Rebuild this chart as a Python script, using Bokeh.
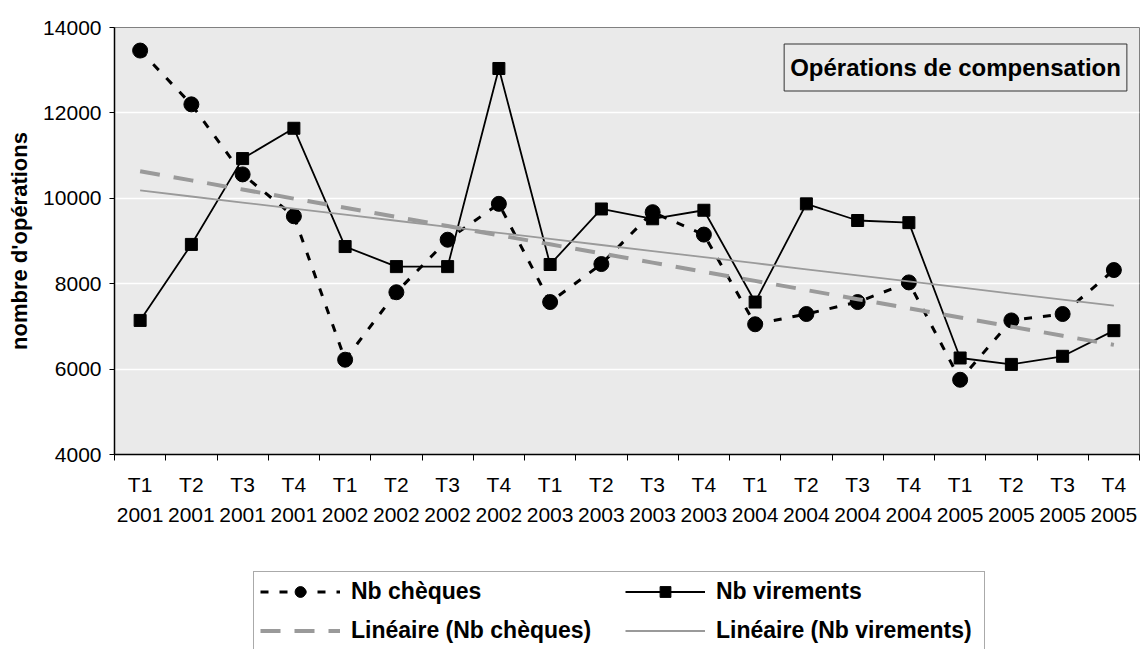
import numpy as np
from bokeh.plotting import figure
from bokeh.layouts import column
from bokeh.models import Range1d, FixedTicker, Legend, LegendItem, Label
from bokeh.embed import file_html
from bokeh.resources import INLINE

quarters = ["T1", "T2", "T3", "T4"] * 5
years = ["2001"] * 4 + ["2002"] * 4 + ["2003"] * 4 + ["2004"] * 4 + ["2005"] * 4
cheques = [13460, 12200, 10560, 9580, 6220, 7800, 9030, 9870, 7570, 8460,
           9675, 9150, 7050, 7290, 7570, 8030, 5750, 7140, 7290, 8320]
virements = [7140, 8920, 10930, 11640, 8870, 8400, 8400, 13040, 8450, 9750,
             9520, 9720, 7570, 9870, 9480, 9430, 6260, 6110, 6300, 6900]
y_ticks = [4000, 6000, 8000, 10000, 12000, 14000]

FONT = "Liberation Sans"
x = list(range(len(quarters)))
tick_labels = {i: f"{q}\n{y}" for i, (q, y) in enumerate(zip(quarters, years))}

trend_c = np.polyval(np.polyfit(x, cheques, 1), x)
trend_v = np.polyval(np.polyfit(x, virements, 1), x)

# styles shared by the chart and the legend
S_CHQ = dict(line_color="black", line_width=3, line_dash="8 11")
M_CHQ = dict(marker="circle", size=15, fill_color="black", line_color="black")
S_VIR = dict(line_color="black", line_width=1.8)
M_VIR = dict(marker="square", size=12, fill_color="black", line_color="black")
S_TC = dict(line_color="#9a9a9a", line_width=4, line_dash="20 14")
S_TV = dict(line_color="#9a9a9a", line_width=1.8)

p = figure(width=1140, height=560, output_backend="svg", toolbar_location=None,
           x_range=Range1d(-0.5, len(x) - 0.5), y_range=Range1d(4000, 14000),
           min_border_left=114, min_border_right=1, min_border_top=27,
           min_border_bottom=106, background_fill_color="#eaeaea",
           border_fill_color="white", outline_line_color="#808080")

# axes
p.xaxis.ticker = FixedTicker(ticks=x, minor_ticks=[i - 0.5 for i in range(len(x) + 1)])
p.xaxis.major_label_overrides = tick_labels
p.xaxis.major_tick_out = 0
p.xaxis.major_tick_in = 0
p.xaxis.minor_tick_out = 6
p.xaxis.minor_tick_in = 0
p.xaxis.minor_tick_line_color = "black"
p.xaxis.major_label_standoff = 12
p.xaxis.major_label_text_line_height = 1.33
p.yaxis.ticker = FixedTicker(ticks=y_ticks)
p.yaxis.major_tick_out = 5
p.yaxis.major_tick_in = 0
p.yaxis.minor_tick_line_color = None
p.yaxis.major_label_standoff = 8
p.yaxis.axis_label = "nombre d'opérations"
p.yaxis.axis_label_standoff = 8
p.yaxis.axis_label_text_font = FONT
p.yaxis.axis_label_text_font_style = "bold"
p.yaxis.axis_label_text_font_size = "22px"
p.yaxis.axis_label_text_color = "black"
for ax in (p.xaxis, p.yaxis):
    ax.axis_line_color = "black"
    ax.axis_line_width = 1.5
    ax.major_tick_line_color = "black"
    ax.major_label_text_font = FONT
    ax.major_label_text_font_size = "21px"
    ax.major_label_text_color = "black"

p.xgrid.grid_line_color = None
p.ygrid.grid_line_color = "white"
p.ygrid.grid_line_width = 1.5

# series
p.line(x, cheques, **S_CHQ)
p.scatter(x, cheques, **M_CHQ)
p.line(x, virements, **S_VIR)
p.scatter(x, virements, **M_VIR)
p.line(x, trend_c, **S_TC)
p.line(x, trend_v, **S_TV)

title = Label(x=15.91, y=13063, text="Opérations de compensation",
              text_align="center", text_baseline="middle", text_font=FONT,
              text_font_style="bold", text_font_size="24px", text_color="black",
              border_line_color="#333333", border_line_width=1,
              background_fill_color="#eaeaea",
              padding=dict(left=6, right=6, top=10, bottom=10))
p.add_layout(title)

# legend strip below the chart: same series, drawn outside its view range
# (clipped away), so only the legend swatches show
pl = figure(width=1140, height=89, output_backend="svg", toolbar_location=None,
            x_axis_type=None, y_axis_type=None, min_border=0,
            x_range=Range1d(-0.5, len(x) - 0.5), y_range=Range1d(0, 1),
            outline_line_color=None, background_fill_color="white",
            border_fill_color="white")
pl.xgrid.visible = False
pl.ygrid.visible = False
g1 = pl.line(x, cheques, **S_CHQ)
g1m = pl.scatter(x, cheques, **M_CHQ)
g2 = pl.line(x, virements, **S_VIR)
g2m = pl.scatter(x, virements, **M_VIR)
g3 = pl.line(x, trend_c, **S_TC)
g4 = pl.line(x, trend_v, **S_TV)

legend = Legend(items=[
    LegendItem(label="Nb chèques", renderers=[g1, g1m]),
    LegendItem(label="Linéaire (Nb chèques)", renderers=[g3]),
    LegendItem(label="Nb virements", renderers=[g2, g2m]),
    LegendItem(label="Linéaire (Nb virements)", renderers=[g4]),
], ncols=2, location=(139, -2), glyph_width=80, glyph_height=27,
    label_standoff=11, spacing=12, padding=6, margin=0, label_width=262,
    label_text_font=FONT, label_text_font_style="bold", label_text_font_size="23px",
    label_text_color="black", border_line_color="#555555", border_line_width=1,
    background_fill_color="white", background_fill_alpha=1)
pl.add_layout(legend)

layout = column(p, pl, spacing=0)
open("out.html", "w").write(file_html(layout, INLINE))
